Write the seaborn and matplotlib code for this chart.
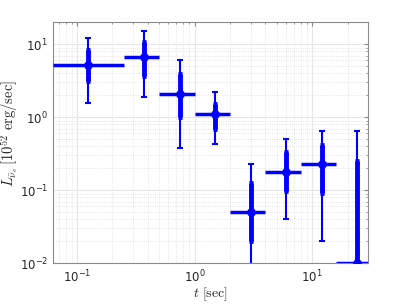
import numpy as np
import pandas as pd
import matplotlib
matplotlib.use("Agg")
import matplotlib.pyplot as plt
import seaborn as sns
from matplotlib.ticker import LogLocator, FuncFormatter, NullFormatter

# Data
t_center = [0.125, 0.375, 0.75, 1.5, 3.0, 6.0, 12.0, 24.0]
t_low = [0.0625, 0.25, 0.5, 1.0, 2.0, 4.0, 8.0, 16.0]
t_high = [0.25, 0.5, 1.0, 2.0, 4.0, 8.0, 16.0, 32.0]
L = [5.2, 6.6, 2.1, 1.1, 0.05, 0.18, 0.23, 0.01]
L_in_lo = [3.1, 3.7, 1.0, 0.69, 0.02, 0.099, 0.091, 0.0001]
L_in_hi = [8.4, 10.8, 3.9, 1.52, 0.125, 0.33, 0.41, 0.25]
L_out_lo = [1.58, 1.88, 0.376, 0.43, 0.0001, 0.04, 0.02, 0.0001]
L_out_hi = [12.0, 15.4, 6.0, 2.2, 0.227, 0.505, 0.65, 0.65]

df = pd.DataFrame(dict(t=t_center, L=L))

sns.set_style("white")
plt.rcParams["font.family"] = ["DejaVu Sans"]

fig = plt.figure(figsize=(4.07, 3.05), dpi=100)
ax = fig.add_axes([0.130, 0.137, 0.775, 0.79])

blue = (0, 0, 1)
tc = np.array(t_center)
Lv = np.array(L)
xerr = [tc - np.array(t_low), np.array(t_high) - tc]
out_err = [Lv - np.array(L_out_lo), np.array(L_out_hi) - Lv]
in_err = [Lv - np.array(L_in_lo), np.array(L_in_hi) - Lv]

ax.errorbar(tc, Lv, yerr=out_err, fmt="none", ecolor=blue, elinewidth=1.5,
            capsize=2.5, capthick=1.5, zorder=3)
ax.errorbar(tc, Lv, yerr=in_err, fmt="none", ecolor=blue, elinewidth=3.5,
            capsize=1.5, capthick=3.5, zorder=4)
ax.errorbar(tc, Lv, xerr=xerr, fmt="none", ecolor=blue, elinewidth=2.5,
            capsize=0, zorder=4)
sns.scatterplot(data=df, x="t", y="L", ax=ax, color=blue, s=40,
                edgecolor=blue, linewidth=0, zorder=5, legend=False)

ax.set_xscale("log")
ax.set_yscale("log")
ax.set_xlim(1 / 16, 30)
ax.set_ylim(0.01, 20)

ax.xaxis.set_major_locator(LogLocator(base=10, numticks=10))
ax.yaxis.set_major_locator(LogLocator(base=10, numticks=10))
ax.xaxis.set_minor_locator(LogLocator(base=10, subs=np.arange(2, 10), numticks=20))
ax.yaxis.set_minor_locator(LogLocator(base=10, subs=np.arange(2, 10), numticks=20))
fmt = FuncFormatter(lambda v, p: r"$10^{%d}$" % int(round(np.log10(v))))
ax.xaxis.set_major_formatter(fmt)
ax.yaxis.set_major_formatter(fmt)
ax.xaxis.set_minor_formatter(NullFormatter())
ax.yaxis.set_minor_formatter(NullFormatter())

ax.grid(True, which="major", color="#e6e6e6", linewidth=0.8, linestyle="-")
ax.grid(True, which="minor", color="#dcdcdc", linewidth=0.6, linestyle=":")
ax.set_axisbelow(True)

for s in ax.spines.values():
    s.set_color("#8a8a8a")
    s.set_linewidth(0.8)
ax.tick_params(which="both", direction="in", top=True, right=True,
               color="#8a8a8a", labelsize=8.5, labelcolor="#262626")
ax.tick_params(which="major", length=3)
ax.tick_params(which="minor", length=1.5)
ax.tick_params(axis="x", which="major", pad=4)

ax.set_xlabel(r"$t\ [\mathrm{sec}]$", fontsize=10, math_fontfamily="cm",
              color="#262626")
ax.set_ylabel(r"$L_{\bar{\nu}_e}\,[10^{52}\ \mathrm{erg/sec}]$", fontsize=10.5,
              math_fontfamily="cm", color="#262626")
ax.xaxis.set_label_coords(0.5, -0.092)
ax.yaxis.set_label_coords(-0.10, 0.54)

fig.savefig("out.png", dpi=100)
